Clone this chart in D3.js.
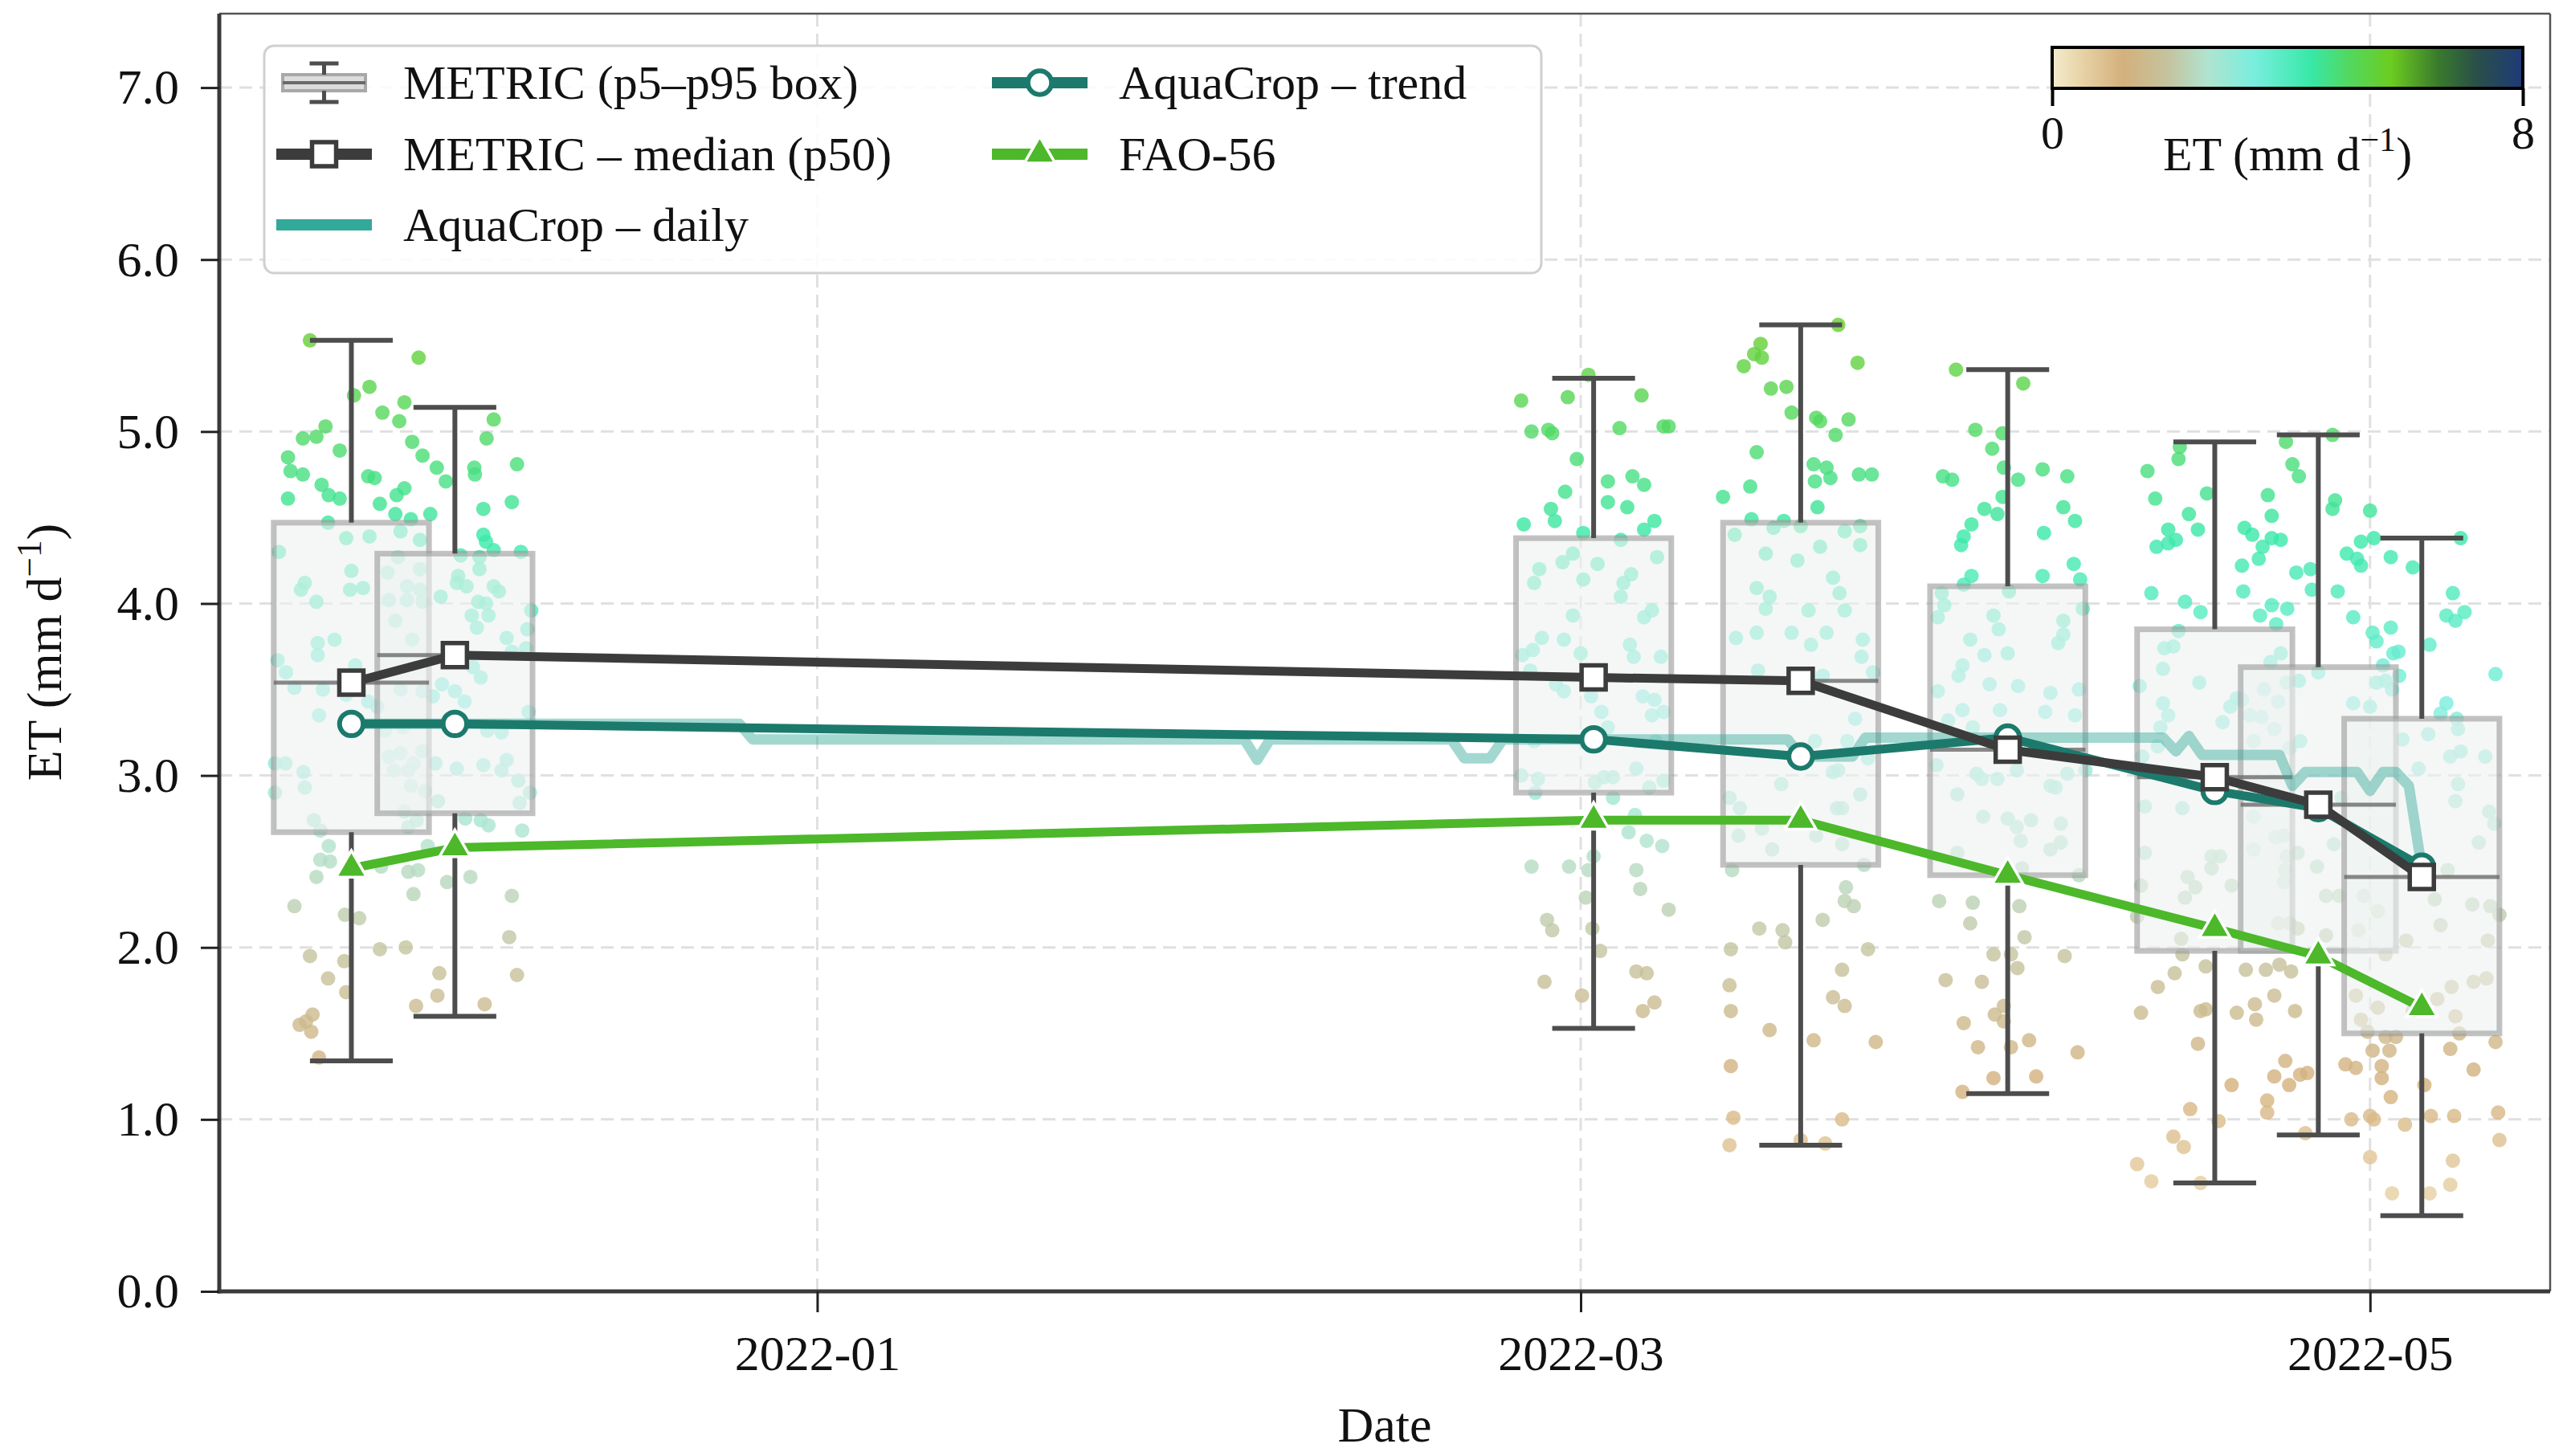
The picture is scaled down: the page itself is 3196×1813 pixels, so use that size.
<!DOCTYPE html>
<html>
<head>
<meta charset="utf-8">
<title>ET comparison: METRIC vs AquaCrop vs FAO-56</title>
<script src="https://cdn.jsdelivr.net/npm/d3@7"></script>
<style>
  html, body { margin: 0; padding: 0; background: #fff; overflow: hidden; }
  svg { display: block; }
  text { font-family: 'Liberation Serif', 'DejaVu Serif', serif; fill: #111; }
</style>
</head>
<body>
<script>
// ---- data ----
const acqDates = ['2021-11-26', '2021-12-04', '2022-03-02', '2022-03-18', '2022-04-03', '2022-04-19', '2022-04-27', '2022-05-05'];
const etMin = [1.34, 1.60, 1.53, 0.85, 1.15, 0.63, 0.91, 0.44];   // whisker bottom
const etP5  = [2.67, 2.78, 2.90, 2.48, 2.42, 1.98, 1.98, 1.50];   // box bottom
const etP50 = [3.54, 3.70, 3.57, 3.55, 3.15, 2.99, 2.83, 2.41];   // median
const etP95 = [4.47, 4.29, 4.38, 4.47, 4.10, 3.85, 3.63, 3.33];   // box top
const etMax = [5.53, 5.14, 5.31, 5.62, 5.36, 4.94, 4.98, 4.38];   // whisker top
const aquaTrend = [3.30, 3.30, 3.21, 3.11, 3.22, 2.91, 2.81, 2.47];
const fao56 = [2.46, 2.58, 2.74, 2.74, 2.42, 2.11, 1.95, 1.65];

// AquaCrop daily series (breakpoints of the drawn line)
const dailyDates = ['2021-11-26', '2021-12-26', '2021-12-27', '2022-02-03', '2022-02-04', '2022-02-05', '2022-02-19',
  '2022-02-20', '2022-02-22', '2022-02-23', '2022-03-17', '2022-03-18', '2022-03-22', '2022-03-23', '2022-04-15',
  '2022-04-16', '2022-04-17', '2022-04-18', '2022-04-24', '2022-04-25', '2022-04-26', '2022-04-30', '2022-05-01',
  '2022-05-02', '2022-05-03', '2022-05-04', '2022-05-05'];
const dailyET = [3.30, 3.30, 3.21, 3.21, 3.09, 3.21, 3.21,
  3.10, 3.10, 3.21, 3.21, 3.11, 3.11, 3.22, 3.22,
  3.14, 3.23, 3.12, 3.12, 2.94, 3.02, 3.02, 2.91,
  3.02, 3.02, 2.94, 2.46];

// METRIC pixel samples per acquisition: [jitter (days), ET]
const metricSamples = [
  [[-3.2,5.53],[0.2,5.21],[1.4,5.26],[4.1,5.17],[2.4,5.11],[3.7,5.06],[-2.0,5.03],[-3.75,4.96],[-2.7,4.97],[4.7,4.94],[-0.9,4.89],[-4.9,4.85],[-4.7,4.77],[-3.75,4.75],[1.3,4.74],[1.8,4.73],[-2.3,4.69],[-1.75,4.63],[-0.9,4.61],[-4.9,4.61],[4.1,4.67],[3.5,4.63],[2.2,4.58],[3.4,4.52],[4.6,4.49],[-1.8,4.47],[-0.4,4.38],[1.4,4.39],[3.8,4.42],[-5.6,4.30],[3.6,4.27],[0,4.19],[-3.6,4.12],[-3.9,4.08],[-0.1,4.08],[0.9,4.09],[4.3,4.10],[4.3,4.02],[-2.7,4.01],[3.4,3.90],[-2.6,3.77],[-1.3,3.79],[-2.6,3.70],[4.7,3.79],[-5.7,3.67],[-5.05,3.60],[-4.4,3.51],[0.3,3.64],[-2.2,3.50],[-0.4,3.47],[1.3,3.43],[2.0,3.40],[3.8,3.50],[-2.5,3.35],[2.6,3.26],[4.0,3.28],[-5.9,3.07],[-5.1,3.07],[-3.7,3.02],[-3.6,2.93],[-5.9,2.90],[-2.9,2.74],[-2.4,2.68],[-1.75,2.59],[-2.4,2.51],[-1.65,2.50],[-2.7,2.41],[2.3,2.47],[4.4,2.44],[-4.4,2.24],[-0.5,2.19],[0.6,2.17],[-3.2,1.95],[2.2,1.99],[-0.55,1.92],[-1.8,1.82],[-0.4,1.74],[-3.0,1.61],[-4.0,1.55],[-3.5,1.57],[-3.1,1.51],[-2.5,1.36]],
  [[-2.8,5.43],[3.0,5.07],[2.45,4.96],[-2.5,4.86],[-1.4,4.79],[1.5,4.79],[1.55,4.75],[4.8,4.81],[-0.7,4.71],[2.2,4.55],[4.4,4.59],[-1.9,4.52],[2.2,4.40],[2.4,4.36],[3.0,4.31],[5.1,4.30],[-2.7,4.37],[0.45,4.28],[1.9,4.27],[1.9,4.20],[-2.7,4.20],[0.25,4.16],[0.15,4.12],[0.9,4.10],[3.0,4.10],[3.4,4.07],[-5.2,4.18],[-5.1,4.02],[-2.7,4.08],[-2.5,4.01],[-1.1,4.04],[1.8,4.01],[2.4,4.00],[1.3,3.93],[2.6,3.93],[5.9,3.96],[1.7,3.86],[5.6,3.85],[4.0,3.80],[4.4,3.72],[5.5,3.74],[-1.7,3.46],[-2.5,3.49],[-1.0,3.53],[0,3.49],[0.75,3.43],[2.0,3.57],[1.4,3.63],[5.7,3.37],[2.5,3.26],[3.6,3.25],[-5.1,3.11],[-4.2,3.13],[-3.2,3.07],[-2.5,3.14],[-4.7,3.03],[-3.6,3.03],[-1.5,3.07],[0.15,3.04],[2.2,3.06],[4.0,3.09],[3.6,3.03],[-3.4,2.94],[-2.3,2.91],[-1.3,2.85],[4.9,2.97],[5.8,2.90],[5.0,2.84],[-3.9,2.79],[-2.95,2.74],[-3.6,2.70],[0.8,2.75],[2.0,2.74],[2.6,2.71],[5.2,2.68],[-2.85,2.45],[-2.1,2.59],[-3.2,2.31],[1.2,2.41],[-0.6,2.38],[4.4,2.30],[4.2,2.06],[-3.8,2.00],[-1.2,1.85],[-1.35,1.72],[4.8,1.84],[-3.0,1.66],[2.3,1.67]],
  [[-0.4,5.33],[-5.6,5.18],[-2.0,5.20],[3.7,5.21],[-4.8,5.00],[-3.5,5.01],[-3.2,4.99],[2.0,5.02],[5.4,5.03],[5.8,5.03],[-1.3,4.84],[-2.2,4.65],[1.1,4.71],[3.0,4.74],[3.9,4.69],[1.1,4.59],[2.6,4.56],[-3.3,4.55],[-3.0,4.48],[-5.4,4.46],[4.7,4.48],[3.9,4.43],[-0.8,4.41],[2.1,4.37],[-1.6,4.29],[-4.2,4.20],[-4.6,4.12],[-2.4,4.24],[-0.8,4.14],[0.3,4.23],[2.3,4.12],[2.9,4.17],[2.1,4.04],[4.9,4.27],[-1.6,3.93],[3.9,3.92],[4.5,3.96],[-4.0,3.80],[-2.3,3.79],[-5.5,3.70],[-4.7,3.73],[-1.0,3.71],[-4.9,3.61],[2.8,3.76],[3.1,3.69],[5.2,3.69],[-2.9,3.53],[-2.3,3.49],[-0.2,3.46],[0.6,3.37],[3.8,3.46],[4.7,3.44],[4.5,3.35],[5.4,3.37],[1.1,3.28],[-4.6,3.20],[4.8,3.20],[-5.6,3.00],[-4.3,2.98],[0.8,2.99],[1.5,2.99],[3.3,3.04],[0.1,2.96],[4.3,2.93],[5.4,2.97],[-4.5,2.90],[1.5,2.87],[3.2,2.77],[2.7,2.67],[4.1,2.62],[5.3,2.59],[-4.8,2.47],[-1.9,2.47],[0,2.53],[-0.4,2.45],[3.3,2.45],[3.6,2.34],[-0.6,2.29],[5.8,2.22],[-3.6,2.16],[-3.2,2.10],[-0.1,2.11],[0.5,1.98],[-3.8,1.80],[3.3,1.86],[4.1,1.85],[-0.9,1.72],[3.8,1.63],[4.7,1.68]],
  [[2.9,5.62],[-3.1,5.51],[-3.6,5.45],[-3.0,5.43],[-4.4,5.38],[4.4,5.40],[-2.3,5.25],[-1.1,5.26],[-0.7,5.11],[1.2,5.08],[1.5,5.06],[3.7,5.07],[2.7,4.98],[-3.4,4.88],[1.0,4.81],[2.0,4.79],[2.3,4.73],[1.1,4.71],[4.5,4.75],[5.5,4.75],[-6.0,4.62],[-3.9,4.68],[1.3,4.56],[-3.8,4.49],[-1.3,4.48],[-2.1,4.44],[0,4.45],[3.4,4.42],[4.6,4.45],[-5.1,4.40],[1.5,4.33],[4.6,4.34],[-2.7,4.29],[-0.25,4.25],[2.5,4.15],[-3.4,4.09],[-2.4,4.04],[-2.7,3.97],[3.0,4.06],[0.6,3.96],[3.4,3.96],[-5.0,3.80],[-3.4,3.83],[-0.7,3.83],[0.8,3.76],[2.0,3.83],[4.8,3.79],[4.7,3.69],[-3.3,3.61],[5.6,3.60],[1.7,3.58],[4.2,3.33],[3.6,3.20],[1.1,3.20],[5.2,3.10],[2.9,3.03],[2.5,3.02],[-1.5,2.95],[-5.5,2.87],[-4.7,2.81],[4.6,2.89],[2.8,2.81],[3.2,2.81],[-4.8,2.65],[-3.0,2.69],[1.2,2.65],[-2.2,2.57],[3.2,2.60],[4.9,2.48],[-5.3,2.45],[3.5,2.35],[3.4,2.27],[4.1,2.24],[1.7,2.16],[-3.2,2.11],[-1.4,2.10],[-1.2,2.03],[-5.4,1.99],[5.2,1.99],[-5.5,1.78],[3.2,1.87],[2.5,1.71],[3.4,1.66],[-5.4,1.63],[-2.4,1.52],[1.0,1.46],[5.8,1.45],[-5.4,1.31],[-5.2,1.01],[3.2,1.00],[-5.5,0.85],[1.9,0.86],[0,0.88]],
  [[-4.0,5.36],[1.2,5.28],[-2.5,5.01],[-0.4,4.99],[-1.2,4.90],[-0.3,4.79],[0.8,4.72],[2.7,4.78],[4.6,4.74],[-5.0,4.74],[-4.3,4.72],[-0.4,4.62],[-1.8,4.55],[-0.8,4.52],[4.3,4.56],[5.2,4.48],[-2.8,4.46],[-3.4,4.39],[-3.6,4.34],[2.8,4.41],[5.1,4.23],[-2.8,4.16],[-3.4,4.11],[2.7,4.16],[5.6,4.14],[-5.1,4.06],[0.1,4.07],[-4.9,3.99],[-5.4,3.92],[5.8,3.97],[-1.1,3.93],[-0.7,3.85],[4.3,3.90],[4.3,3.82],[3.9,3.77],[-2.9,3.79],[-1.8,3.70],[0,3.71],[-3.5,3.64],[-3.8,3.58],[-1.4,3.53],[0.8,3.52],[-5.4,3.49],[3.3,3.48],[5.5,3.50],[-3.5,3.38],[-0.6,3.38],[2.9,3.37],[5.2,3.35],[-4.6,3.32],[-2.7,3.28],[-5.5,3.06],[-2.4,3.01],[-2.0,2.98],[-0.8,2.98],[0.7,3.03],[3.3,2.94],[3.7,2.93],[4.6,3.01],[6.0,3.03],[-3.9,2.89],[-1.9,2.76],[0,2.75],[0.7,2.70],[1.8,2.74],[1.0,2.62],[4.1,2.72],[3.3,2.57],[4.1,2.61],[-3.9,2.55],[1.1,2.46],[5.5,2.42],[-5.3,2.27],[-2.7,2.26],[0.9,2.24],[-2.9,2.14],[1.3,2.06],[-1.1,1.96],[0.25,1.96],[0.75,1.88],[4.4,1.95],[-4.8,1.81],[-2.0,1.80],[-0.3,1.66],[-1.0,1.61],[-0.3,1.57],[-3.4,1.56],[-2.3,1.42],[0.25,1.42],[1.65,1.46],[5.4,1.39],[-1.1,1.24],[2.2,1.25],[-3.5,1.16]],
  [[-2.7,4.91],[-2.8,4.84],[-5.2,4.77],[-4.6,4.61],[-0.6,4.64],[-2.0,4.52],[-1.3,4.43],[-3.6,4.43],[-3.0,4.37],[-4.5,4.33],[-3.6,4.35],[-4.9,4.06],[-2.3,4.01],[-1.1,3.95],[2.1,4.22],[2.2,4.07],[2.3,4.44],[2.9,4.40],[4.1,4.63],[4.4,4.51],[3.7,4.33],[3.4,4.26],[4.4,4.38],[4.4,3.99],[3.5,3.93],[4.75,3.88],[-3.9,3.74],[-3.2,3.75],[-2.8,3.84],[-4.0,3.62],[-5.8,3.52],[-1.2,3.54],[-4.0,3.42],[-3.6,3.35],[-4.2,3.28],[0.6,3.31],[1.2,3.40],[1.7,3.45],[-5.6,3.11],[-4.4,3.17],[-5.4,2.82],[-2.5,2.81],[-5.4,2.55],[-0.25,2.53],[0.4,2.53],[-2.1,2.41],[-1.5,2.35],[-5.7,2.36],[-2.3,2.29],[1.3,2.36],[-0.25,2.46],[-6.0,2.18],[-2.6,2.05],[-2.5,1.96],[-3.1,1.85],[-0.7,1.89],[-4.4,1.77],[-5.7,1.62],[-1.1,1.63],[-0.7,1.64],[-1.3,1.44],[1.3,1.20],[-1.9,1.06],[0.3,0.99],[-3.2,0.90],[-2.4,0.84],[-6.0,0.74],[-4.9,0.64],[-1.1,0.63],[1.7,1.62]],
  [[-2.9,4.37],[-2.5,4.94],[-2.0,4.81],[-1.5,4.74],[1.1,4.98],[1.3,4.60],[1.1,4.55],[4.0,4.54],[3.3,4.36],[2.2,4.29],[3.0,4.26],[3.3,4.22],[-1.7,4.18],[-0.6,4.20],[-0.5,4.08],[1.5,4.07],[2.7,3.92],[-2.4,3.97],[-5.9,3.44],[-4.2,3.50],[-3.7,3.66],[-2.9,3.71],[-2.45,3.54],[-1.5,3.55],[0,3.60],[-3.1,3.43],[-5.3,3.35],[-4.4,3.34],[-3.4,3.27],[-5.0,3.20],[-1.4,3.20],[-2.2,3.16],[2.7,3.42],[4.0,3.40],[5.2,3.55],[4.5,3.54],[1.8,2.87],[1.2,2.60],[2.45,2.70],[-5.0,2.76],[-3.3,2.64],[-2.7,2.65],[-1.6,2.55],[-0.1,2.47],[-2.45,2.53],[-2.55,2.45],[-2.65,2.38],[-5.0,2.57],[0.6,2.30],[1.6,2.30],[-3.1,2.14],[-2.2,2.14],[-1.6,2.11],[0.6,2.07],[3.5,2.30],[4.6,2.21],[3.1,2.10],[5.2,1.96],[-5.6,1.87],[-4.05,1.87],[-3.0,1.90],[-2.1,1.86],[-4.9,1.67],[-4.8,1.58],[-3.4,1.72],[-1.8,1.63],[2.9,1.72],[-2.55,1.34],[-3.4,1.25],[-2.25,1.20],[-1.4,1.26],[-0.85,1.27],[-3.95,1.11],[-3.95,1.04],[2.1,1.32],[2.9,1.30],[2.55,1.00],[-1.0,0.92]],
  [[-3.7,4.38],[-2.4,4.27],[-0.7,4.21],[2.4,4.06],[1.9,3.93],[2.6,3.90],[3.3,3.95],[3.0,4.38],[-2.4,3.86],[-3.8,3.83],[-3.5,3.78],[0.6,3.76],[-2.2,3.71],[-1.8,3.72],[-3.0,3.64],[-1.75,3.58],[-2.3,3.50],[5.7,3.59],[1.9,3.42],[1.45,3.36],[2.7,3.33],[2.8,3.27],[0.5,3.24],[-1.5,3.21],[2.2,3.11],[3.0,3.14],[4.9,3.11],[-0.25,3.04],[2.8,2.95],[2.6,2.85],[5.2,2.79],[5.6,2.72],[4.4,2.61],[2.0,2.45],[1.0,2.28],[1.45,2.13],[3.9,2.25],[5.3,2.24],[6.0,2.19],[5.1,2.04],[-1.2,2.04],[2.3,1.77],[4.0,1.80],[5.0,1.82],[2.6,1.60],[2.2,1.41],[4.0,1.29],[5.7,1.45],[0.2,1.20],[0.7,1.02],[2.5,1.02],[5.9,1.04],[6.0,0.88],[2.4,0.76],[2.2,0.62],[0.6,0.57],[-2.3,0.57],[-1.3,0.97],[-2.4,1.13],[-3.1,1.24],[-3.8,1.40],[-3.1,1.31],[-2.5,1.40],[-4.0,0.78],[-4.0,1.02],[-3.7,1.00],[-4.7,1.58],[-3.4,1.65],[-4.2,1.51],[-2.8,1.48],[-2.0,1.48],[1.2,1.70],[2.9,1.50],[-0.7,1.63]]
];

// colour map for ET (0..8 mm/d)
const cmapStops  = [0, 0.06, 0.15, 0.25, 0.33, 0.43, 0.55, 0.63, 0.72, 0.82, 0.90, 1];
const cmapColors = ['#f4eccc', '#e8d4a8', '#d4b07c', '#c4c4a0', '#b0e4d0', '#78eedd', '#38e8a8', '#52d860', '#6ccc20', '#3a7a2c', '#2a5048', '#1e3a78'];

const yTicks = [0, 1, 2, 3, 4, 5, 6, 7];
const xTicks = ['2022-01-01', '2022-03-01', '2022-05-01'];

// ---- setup ----
const parseDay = d3.timeParse('%Y-%m-%d');
const DAY = 864e5;
const W = 3196, H = 1813;
const plot = {left: 273, right: 3175, top: 17, bottom: 1608};
const FONT = "'Liberation Serif', 'DejaVu Serif', serif";

const colMedian = '#3c3c3c', colTrend = '#1b7a6c', colDaily = '#33a99a', colFao = '#4cb82a';

const svg = d3.select('body').append('svg').attr('width', W).attr('height', H);

const x = d3.scaleTime()
    .domain([new Date(2021, 10, 15, 19), new Date(2022, 4, 14, 22)])
    .range([plot.left, plot.right]);
const y = d3.scaleLinear().domain([0, 7.43]).range([plot.bottom, plot.top]);
const etColor = d3.scaleLinear()
    .domain(cmapStops.map(s => s * 8))
    .range(cmapColors)
    .interpolate(d3.interpolateRgb)
    .clamp(true);

const acq = acqDates.map(parseDay);

// grid
const grid = svg.append('g')
    .attr('stroke', '#e0e0e0').attr('stroke-width', 3).attr('stroke-dasharray', '16,9');
grid.selectAll('.gy').data(yTicks).join('line').attr('class', 'gy')
    .attr('x1', plot.left).attr('x2', plot.right)
    .attr('y1', d => y(d)).attr('y2', d => y(d));
grid.selectAll('.gx').data(xTicks.map(parseDay)).join('line').attr('class', 'gx')
    .attr('x1', d => x(d)).attr('x2', d => x(d))
    .attr('y1', plot.top).attr('y2', plot.bottom);

// scatter of METRIC pixels
const pts = metricSamples.flatMap((arr, i) => arr.map(([dx, v]) => ({t: new Date(+acq[i] + dx * DAY), v})));
svg.append('g').selectAll('circle').data(pts).join('circle')
    .attr('cx', d => x(d.t)).attr('cy', d => y(d.v))
    .attr('r', 9)
    .attr('fill', d => etColor(d.v))
    .attr('fill-opacity', 0.8);

// boxes p5-p95
const boxes = acq.map((d, i) => ({d, min: etMin[i], p5: etP5[i], p50: etP50[i], p95: etP95[i], max: etMax[i]}));
const boxHalf = 6 * DAY, capHalf = 3.2 * DAY;
const bx = svg.append('g');
bx.selectAll('rect').data(boxes).join('rect')
    .attr('x', d => x(new Date(+d.d - boxHalf)))
    .attr('width', d => x(new Date(+d.d + boxHalf)) - x(new Date(+d.d - boxHalf)))
    .attr('y', d => y(d.p95))
    .attr('height', d => y(d.p5) - y(d.p95))
    .attr('fill', '#edf2f0').attr('fill-opacity', 0.6)
    .attr('stroke', '#9a9a9a').attr('stroke-opacity', 0.6).attr('stroke-width', 7);
bx.selectAll('.med').data(boxes).join('line').attr('class', 'med')
    .attr('x1', d => x(new Date(+d.d - boxHalf))).attr('x2', d => x(new Date(+d.d + boxHalf)))
    .attr('y1', d => y(d.p50)).attr('y2', d => y(d.p50))
    .attr('stroke', '#6a6a6a').attr('stroke-opacity', 0.8).attr('stroke-width', 5);

// whiskers and caps
const wk = svg.append('g').attr('stroke', '#4d4d4d').attr('stroke-width', 6);
wk.selectAll('.wu').data(boxes).join('line').attr('class', 'wu')
    .attr('x1', d => x(d.d)).attr('x2', d => x(d.d))
    .attr('y1', d => y(d.p95)).attr('y2', d => y(d.max));
wk.selectAll('.wl').data(boxes).join('line').attr('class', 'wl')
    .attr('x1', d => x(d.d)).attr('x2', d => x(d.d))
    .attr('y1', d => y(d.p5)).attr('y2', d => y(d.min));
wk.selectAll('.cu').data(boxes).join('line').attr('class', 'cu')
    .attr('x1', d => x(new Date(+d.d - capHalf))).attr('x2', d => x(new Date(+d.d + capHalf)))
    .attr('y1', d => y(d.max)).attr('y2', d => y(d.max));
wk.selectAll('.cl').data(boxes).join('line').attr('class', 'cl')
    .attr('x1', d => x(new Date(+d.d - capHalf))).attr('x2', d => x(new Date(+d.d + capHalf)))
    .attr('y1', d => y(d.min)).attr('y2', d => y(d.min));

// lines
const line = d3.line().x(d => x(d.t)).y(d => y(d.v));
const daily = dailyDates.map((d, i) => ({t: parseDay(d), v: dailyET[i]}));
const trend = acq.map((t, i) => ({t, v: aquaTrend[i]}));
const median = acq.map((t, i) => ({t, v: etP50[i]}));
const fao = acq.map((t, i) => ({t, v: fao56[i]}));

svg.append('path').datum(daily).attr('d', line)
    .attr('fill', 'none').attr('stroke', colDaily).attr('stroke-opacity', 0.45)
    .attr('stroke-width', 13).attr('stroke-linejoin', 'round');

const markerSym = {
  circle: d3.symbol().type(d3.symbolCircle).size(680),
  square: d3.symbol().type(d3.symbolSquare).size(900),
  triangle: d3.symbol().type(d3.symbolTriangle).size(640)
};

function series(data, color, width, sym, fill, edge, edgeW) {
  const g = svg.append('g');
  g.append('path').datum(data).attr('d', line)
      .attr('fill', 'none').attr('stroke', color).attr('stroke-width', width)
      .attr('stroke-linejoin', 'round');
  g.selectAll('path.mk').data(data).join('path').attr('class', 'mk')
      .attr('d', markerSym[sym])
      .attr('transform', d => `translate(${x(d.t)},${y(d.v)})`)
      .attr('fill', fill).attr('stroke', edge).attr('stroke-width', edgeW);
}
series(trend, colTrend, 11, 'circle', '#fff', colTrend, 6);
series(median, colMedian, 11, 'square', '#fff', colMedian, 5.5);
series(fao, colFao, 11, 'triangle', colFao, '#fff', 3.5);

// spines
const sp = svg.append('g').attr('fill', 'none');
sp.append('line').attr('x1', plot.left).attr('x2', plot.right).attr('y1', plot.top).attr('y2', plot.top)
    .attr('stroke', '#555').attr('stroke-width', 2.5);
sp.append('line').attr('x1', plot.right).attr('x2', plot.right).attr('y1', plot.top).attr('y2', plot.bottom)
    .attr('stroke', '#555').attr('stroke-width', 2.5);
sp.append('line').attr('x1', plot.left).attr('x2', plot.left).attr('y1', plot.top).attr('y2', plot.bottom + 2.5)
    .attr('stroke', '#3a3a3a').attr('stroke-width', 5);
sp.append('line').attr('x1', plot.left - 2.5).attr('x2', plot.right).attr('y1', plot.bottom).attr('y2', plot.bottom)
    .attr('stroke', '#3a3a3a').attr('stroke-width', 5);

// axes
const yAxis = svg.append('g').attr('transform', `translate(${plot.left},0)`)
    .call(d3.axisLeft(y).tickValues(yTicks).tickFormat(d3.format('.1f')).tickSize(23).tickPadding(27));
const xAxis = svg.append('g').attr('transform', `translate(0,${plot.bottom})`)
    .call(d3.axisBottom(x).tickValues(xTicks.map(parseDay)).tickFormat(d3.timeFormat('%Y-%m')).tickSize(26).tickPadding(28));
[yAxis, xAxis].forEach(a => {
  a.attr('font-family', FONT).attr('font-size', 62);
  a.select('.domain').remove();
  a.selectAll('.tick line').attr('stroke', '#222').attr('stroke-width', 3);
  a.selectAll('.tick text').attr('fill', '#111');
});

svg.append('text').attr('x', (plot.left + plot.right) / 2).attr('y', 1795)
    .attr('text-anchor', 'middle').attr('font-size', 62).text('Date');

function etLabel(sel, size) {
  sel.append('tspan').text('ET (mm d');
  sel.append('tspan').attr('font-size', size * 0.7).attr('dy', -size * 0.4).text('\u22121');
  sel.append('tspan').attr('dy', size * 0.4).text(')');
}
const yl = svg.append('text').attr('transform', 'translate(76,812) rotate(-90)')
    .attr('text-anchor', 'middle').attr('font-size', 62);
etLabel(yl, 62);

// legend
const lg = svg.append('g');
lg.append('rect').attr('x', 329).attr('y', 57).attr('width', 1590).attr('height', 283).attr('rx', 12)
    .attr('fill', '#fff').attr('fill-opacity', 0.85).attr('stroke', '#d0d0d0').attr('stroke-width', 3);

const legendItems = [
  {label: 'METRIC (p5\u2013p95 box)', col: 0, row: 0, kind: 'box'},
  {label: 'METRIC \u2013 median (p50)', col: 0, row: 1, kind: 'line', color: colMedian, sym: 'square', fill: '#fff', edge: colMedian, ew: 5.5},
  {label: 'AquaCrop \u2013 daily', col: 0, row: 2, kind: 'line', color: colDaily},
  {label: 'AquaCrop \u2013 trend', col: 1, row: 0, kind: 'line', color: colTrend, sym: 'circle', fill: '#fff', edge: colTrend, ew: 6},
  {label: 'FAO-56', col: 1, row: 1, kind: 'line', color: colFao, sym: 'triangle', fill: colFao, edge: '#fff', ew: 3.5}
];
const colX = [344, 1235], rowY = [103, 192, 280], handleLen = 119, textGap = 39;
legendItems.forEach(it => {
  const x0 = colX[it.col], yc = rowY[it.row], xc = x0 + handleLen / 2;
  const g = lg.append('g');
  if (it.kind === 'box') {
    g.append('rect').attr('x', x0 + 8).attr('y', yc - 10).attr('width', handleLen - 16).attr('height', 20)
        .attr('fill', '#dcdcdc').attr('stroke', '#a8a8a8').attr('stroke-width', 4);
    g.append('line').attr('x1', x0 + 8).attr('x2', x0 + handleLen - 8).attr('y1', yc).attr('y2', yc)
        .attr('stroke', '#6a6a6a').attr('stroke-width', 4);
    g.append('line').attr('x1', xc).attr('x2', xc).attr('y1', yc - 24).attr('y2', yc - 10)
        .attr('stroke', '#4d4d4d').attr('stroke-width', 5);
    g.append('line').attr('x1', xc).attr('x2', xc).attr('y1', yc + 10).attr('y2', yc + 24)
        .attr('stroke', '#4d4d4d').attr('stroke-width', 5);
    [yc - 24, yc + 24].forEach(yy => g.append('line').attr('x1', xc - 18).attr('x2', xc + 18)
        .attr('y1', yy).attr('y2', yy).attr('stroke', '#4d4d4d').attr('stroke-width', 5));
  } else {
    g.append('line').attr('x1', x0).attr('x2', x0 + handleLen).attr('y1', yc).attr('y2', yc)
        .attr('stroke', it.color).attr('stroke-width', 14);
    if (it.sym) {
      g.append('path').attr('d', markerSym[it.sym]).attr('transform', `translate(${xc},${yc})`)
          .attr('fill', it.fill).attr('stroke', it.edge).attr('stroke-width', it.ew);
    }
  }
  g.append('text').attr('x', x0 + handleLen + textGap).attr('y', yc + 20)
      .attr('font-size', 60).text(it.label);
});

// colour bar
const cb = {x0: 2555, x1: 3141, y0: 59, y1: 110};
const grad = svg.append('defs').append('linearGradient').attr('id', 'etgrad')
    .attr('x1', '0%').attr('x2', '100%').attr('y1', '0%').attr('y2', '0%');
grad.selectAll('stop').data(cmapStops).join('stop')
    .attr('offset', d => `${d * 100}%`)
    .attr('stop-color', (d, i) => cmapColors[i]);
const cbScale = d3.scaleLinear().domain([0, 8]).range([cb.x0, cb.x1]);
svg.append('rect').attr('x', cb.x0).attr('y', cb.y0).attr('width', cb.x1 - cb.x0).attr('height', cb.y1 - cb.y0)
    .attr('fill', 'url(#etgrad)').attr('stroke', '#000').attr('stroke-width', 4);
const cbAxis = svg.append('g').attr('transform', `translate(0,${cb.y1})`)
    .call(d3.axisBottom(cbScale).tickValues([0, 8]).tickFormat(d3.format('d')).tickSize(22).tickPadding(12));
cbAxis.attr('font-family', FONT).attr('font-size', 58);
cbAxis.select('.domain').remove();
cbAxis.selectAll('.tick line').attr('stroke', '#000').attr('stroke-width', 4);
cbAxis.selectAll('.tick text').attr('fill', '#111');
const cbl = svg.append('text').attr('x', (cb.x0 + cb.x1) / 2).attr('y', 212)
    .attr('text-anchor', 'middle').attr('font-size', 60);
etLabel(cbl, 60);
</script>
</body>
</html>
